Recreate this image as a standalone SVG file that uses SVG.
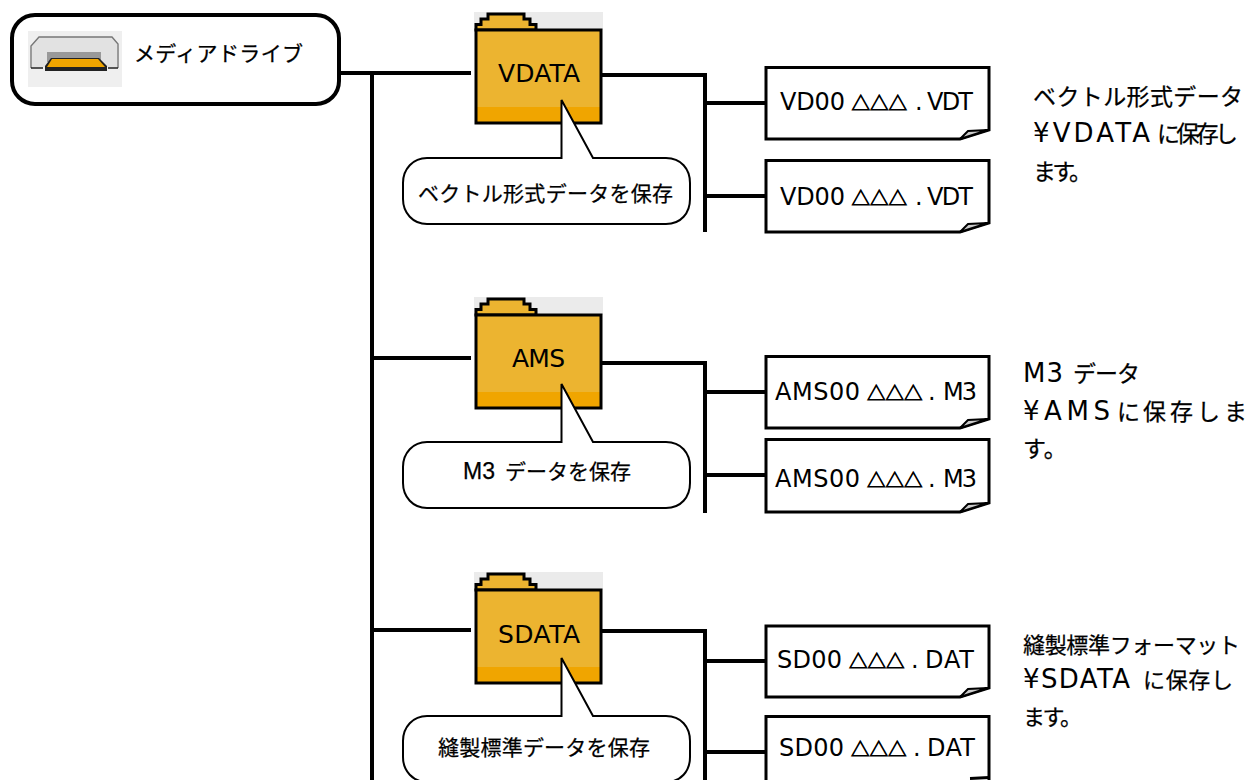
<svg xmlns="http://www.w3.org/2000/svg" width="1251" height="780" viewBox="0 0 1251 780">
<style>
text{font-family:"Liberation Sans","Noto Sans CJK JP",sans-serif;fill:#000;stroke:#000;stroke-width:.25}
.f{font-size:21px}
.l{font-size:25px;font-family:"DejaVu Sans",sans-serif;stroke-width:0}
.n{font-size:24px;font-family:"DejaVu Sans",sans-serif;stroke-width:0}
.w{font-size:26px;font-family:"DejaVu Sans",sans-serif;stroke-width:0}
.tri{font-family:"Noto Sans CJK JP",sans-serif;font-size:18.500px;stroke-width:.8}
.d{font-size:23px}
.e{font-size:22px}
.conn{fill:none;stroke:#000;stroke-width:4}
.bub{fill:#fff;stroke:#000;stroke-width:2}
.doc{fill:#fff;stroke:#000;stroke-width:3}
.ear{fill:#ccc;stroke:#000;stroke-width:2}
</style>
<defs>
<g id="folder">
<rect x="0" y="0" width="129" height="18" fill="#ebebeb"/>
<path d="M2 18V12.500H7V7H14V2H50V7H56V12.500H62V18Z" fill="#ecb430" stroke="#000" stroke-width="3"/>
<rect x="2" y="18" width="125" height="93" fill="#ecb430"/>
<rect x="2" y="95" width="125" height="16" fill="#f0a500"/>
<rect x="2" y="18" width="125" height="93" fill="none" stroke="#000" stroke-width="3"/>
</g>
<path id="bubble" class="bub" d="M24 0H158.500V-58L190 0H263C278 0 287 11 287 25V41C287 55 278 66 263 66H24C10 66 0 55 0 41V25C0 11 10 0 24 0Z"/>
</defs>

<g id="connectors" class="conn">
<path d="M340 73H471M372 73V780M372 358H471M372 630H471"/>
<path d="M602 75H705V232M705 103H766M705 196H766"/>
<path d="M602 363H705V513M705 392H766M705 475H766"/>
<path d="M602 631H705V780M705 661H766M705 752H766"/>
</g>

<g id="drive">
<rect x="12" y="15" width="327" height="89" rx="23" fill="#fff" stroke="#000" stroke-width="4"/>
<rect x="28" y="31" width="94" height="56" fill="#efefef"/>
<path d="M32 67V46L39 37H112L117 44V67Z" fill="#e2e2e2"/>
<path d="M31 68V46L39 37H112L118 44V68" fill="none" stroke="#777" stroke-width="1.400"/>
<path d="M31 68H43M108 68H118" stroke="#222" stroke-width="1.500" fill="none"/>
<rect x="47" y="52" width="54" height="10" fill="#999"/>
<path d="M45 71V66L51 58H99L107 66V71Z" fill="#222"/>
<path d="M47 67L52 59H98L105 67Z" fill="#f0a500"/>
<text x="134" y="61" class="f" textLength="169">メディアドライブ</text>
</g>

<g id="vdata">
<use href="#folder" x="474" y="12"/>
<text x="498" y="82" class="l" textLength="82">VDATA</text>
</g>
<g id="vdata-note">
<use href="#bubble" x="403" y="158"/>
<text x="418" y="201" class="f" textLength="255">ベクトル形式データを保存</text>
</g>
<g id="ams">
<use href="#folder" x="474" y="297"/>
<text x="512" y="367" class="l" textLength="53">AMS</text>
</g>
<g id="ams-note">
<use href="#bubble" x="403" y="442"/>
<text x="463" y="479" class="f"><tspan style="font-size:23px">M3</tspan><tspan x="505" textLength="126">データを保存</tspan></text>
</g>
<g id="sdata">
<use href="#folder" x="474" y="572"/>
<text x="498" y="643" class="l" textLength="82">SDATA</text>
</g>
<g id="sdata-note">
<use href="#bubble" x="403" y="716"/>
<text x="438" y="755" class="f" textLength="212">縫製標準データを保存</text>
</g>

<g id="file-v1"><path class="doc" d="M766 67.500H989V130L960 139H766Z"/><path class="ear" d="M960 139L968 131L988 130Z"/><text y="110" class="n"><tspan x="780" textLength="65">VD00</tspan><tspan x="851.500" class="tri">△△△</tspan><tspan x="915">.</tspan><tspan x="927" textLength="46">VDT</tspan></text></g>
<g id="file-v2"><path class="doc" d="M766 160.500H989V223L960 232H766Z"/><path class="ear" d="M960 232L968 224L988 223Z"/><text y="205" class="n"><tspan x="780" textLength="65">VD00</tspan><tspan x="851.500" class="tri">△△△</tspan><tspan x="915">.</tspan><tspan x="927" textLength="46">VDT</tspan></text></g>
<g id="file-a1"><path class="doc" d="M766 356.500H989V419L960 428H766Z"/><path class="ear" d="M960 428L968 420L988 419Z"/><text y="400" class="n"><tspan x="775" textLength="85">AMS00</tspan><tspan x="867" class="tri">△△△</tspan><tspan x="928">.</tspan><tspan x="943" textLength="34">M3</tspan></text></g>
<g id="file-a2"><path class="doc" d="M766 439.500H989V503L960 512H766Z"/><path class="ear" d="M960 512L968 504L988 503Z"/><text y="487" class="n"><tspan x="775" textLength="85">AMS00</tspan><tspan x="867" class="tri">△△△</tspan><tspan x="928">.</tspan><tspan x="943" textLength="34">M3</tspan></text></g>
<g id="file-s1"><path class="doc" d="M766 626H989V688L960 697H766Z"/><path class="ear" d="M960 697L968 689L988 688Z"/><text y="668" class="n"><tspan x="777" textLength="65">SD00</tspan><tspan x="849" class="tri">△△△</tspan><tspan x="911">.</tspan><tspan x="925" textLength="49">DAT</tspan></text></g>
<g id="file-s2"><path class="doc" d="M766 716.500H989V790H766Z"/><path d="M970 778.500L989 777.500" stroke="#000" stroke-width="3" fill="none"/><text y="756" class="n"><tspan x="779" textLength="65">SD00</tspan><tspan x="851" class="tri">△△△</tspan><tspan x="913">.</tspan><tspan x="927" textLength="48">DAT</tspan></text></g>

<g id="desc-v">
<text x="1033" y="105" class="d" textLength="210">ベクトル形式データ</text>
<text y="142" class="d"><tspan x="1033" class="w" textLength="117">¥VDATA</tspan><tspan x="1157" textLength="81">に保存し</tspan></text>
<text x="1033" y="180" class="d" textLength="59">ます。</text>
</g>
<g id="desc-a">
<text y="382" class="d"><tspan x="1023" class="w" textLength="40">M3</tspan><tspan x="1073" textLength="67">データ</tspan></text>
<text y="420" class="d"><tspan x="1023" class="w" textLength="87">¥AMS</tspan><tspan x="1117">に</tspan><tspan x="1143">保</tspan><tspan x="1170">存</tspan><tspan x="1197">し</tspan><tspan x="1224">ま</tspan></text>
<text x="1023" y="457" class="d">す。</text>
</g>
<g id="desc-s">
<text x="1023" y="653" class="e" textLength="217">縫製標準フォーマット</text>
<text y="688" class="e"><tspan x="1023" class="w" textLength="107">¥SDATA</tspan><tspan x="1143" textLength="90">に保存し</tspan></text>
<text x="1023" y="725" class="e" textLength="59">ます。</text>
</g>
</svg>
